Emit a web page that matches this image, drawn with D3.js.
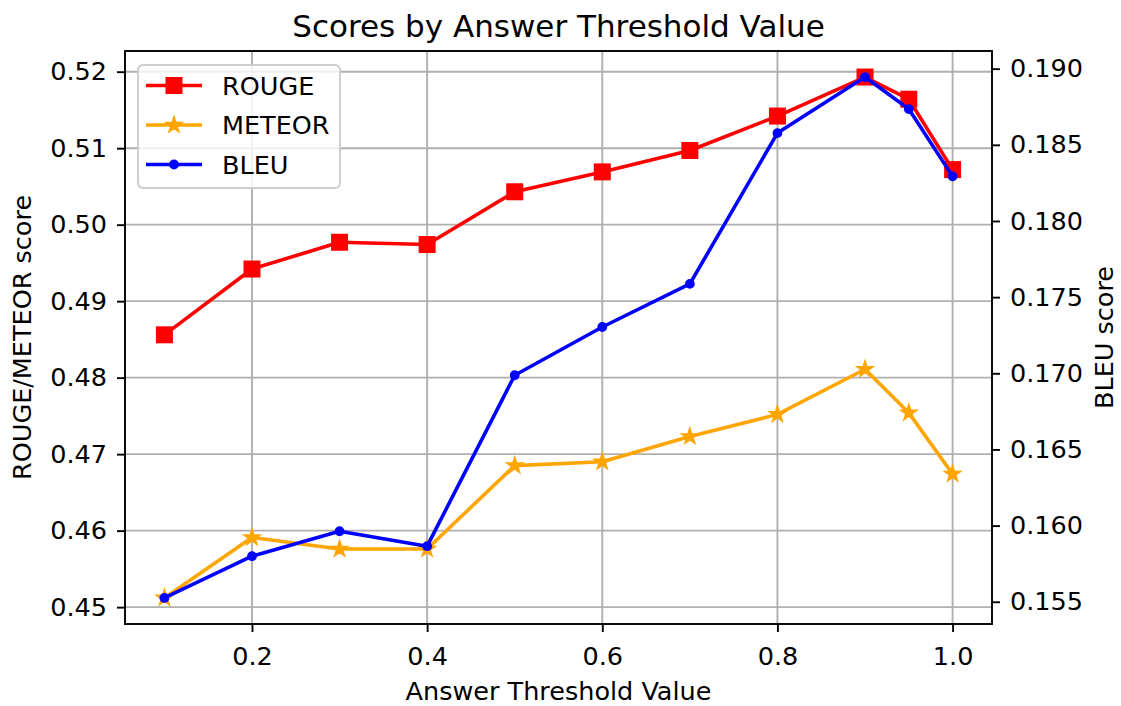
<!DOCTYPE html>
<html>
<head>
<meta charset="utf-8">
<script src="https://cdn.jsdelivr.net/npm/d3@7"></script>
<style>
  body { margin: 0; background: #fff; }
  svg { display: block; font-family: "DejaVu Sans", sans-serif; }
</style>
</head>
<body>
<div id="chart"></div>
<script>
// data
var thresholds = [0.1, 0.2, 0.3, 0.4, 0.5, 0.6, 0.7, 0.8, 0.9, 0.95, 1.0];
var rouge = [0.4856, 0.4942, 0.4977, 0.4974, 0.5043, 0.5069, 0.5097, 0.5142, 0.5193, 0.5164, 0.5072];
var meteor = [0.4512, 0.4591, 0.4576, 0.4576, 0.4685, 0.4690, 0.4723, 0.4752, 0.4811, 0.4754, 0.4674];
var bleu = [0.15525, 0.15799, 0.15963, 0.15865, 0.16987, 0.17304, 0.17587, 0.18577, 0.18945, 0.18735, 0.18293];

var xTicks = [0.2, 0.4, 0.6, 0.8, 1.0];
var leftTicks = [0.45, 0.46, 0.47, 0.48, 0.49, 0.50, 0.51, 0.52];
var rightTicks = [0.155, 0.160, 0.165, 0.170, 0.175, 0.180, 0.185, 0.190];

var width = 1121,
    height = 706;
var margin = { top: 51, right: 129, bottom: 82, left: 125 };
var plotW = width - margin.left - margin.right,
    plotH = height - margin.top - margin.bottom;

var fontSize = "25.5px";

// matplotlib style autoscale with 5% margins
function padded(vals) {
    var ext = d3.extent(vals);
    var p = (ext[1] - ext[0]) * 0.05;
    return [ext[0] - p, ext[1] + p];
}

var x = d3.scaleLinear().domain(padded(thresholds)).range([0, plotW]);
var yLeft = d3.scaleLinear().domain(padded(rouge.concat(meteor))).range([plotH, 0]);
var yRight = d3.scaleLinear().domain(padded(bleu)).range([plotH, 0]);

var svg = d3.select("#chart")
    .append("svg")
    .attr("width", width)
    .attr("height", height);

var g = svg.append("g")
    .attr("transform", "translate(" + margin.left + "," + margin.top + ")");

// grid
g.append("g").selectAll("line")
    .data(xTicks)
    .enter().append("line")
    .attr("x1", d => x(d)).attr("x2", d => x(d))
    .attr("y1", 0).attr("y2", plotH)
    .attr("stroke", "#b0b0b0").attr("stroke-width", 1.9);

g.append("g").selectAll("line")
    .data(leftTicks)
    .enter().append("line")
    .attr("x1", 0).attr("x2", plotW)
    .attr("y1", d => yLeft(d)).attr("y2", d => yLeft(d))
    .attr("stroke", "#b0b0b0").attr("stroke-width", 1.9);

// marker shapes
function starPath(R) {
    var pts = [];
    for (var i = 0; i < 10; i++) {
        var r = i % 2 == 0 ? R : R * 0.381966;
        var a = Math.PI / 5 * i;
        pts.push([r * Math.sin(a), -r * Math.cos(a)]);
    }
    return "M" + pts.map(p => p[0].toFixed(2) + "," + p[1].toFixed(2)).join("L") + "Z";
}

function drawMarker(sel, type, color) {
    if (type == "square") {
        sel.append("rect")
            .attr("x", -7.3).attr("y", -7.3)
            .attr("width", 14.6).attr("height", 14.6)
            .attr("fill", color).attr("stroke", color).attr("stroke-width", 2.4);
    } else if (type == "star") {
        sel.append("path")
            .attr("d", starPath(7.3))
            .attr("fill", color).attr("stroke", color).attr("stroke-width", 2.2)
            .attr("stroke-linejoin", "miter");
    } else {
        sel.append("circle")
            .attr("r", 3.7)
            .attr("fill", color).attr("stroke", color).attr("stroke-width", 2.4);
    }
}

var series = [
    { name: "ROUGE", values: rouge, color: "#ff0000", marker: "square", y: yLeft },
    { name: "METEOR", values: meteor, color: "#ffa500", marker: "star", y: yLeft },
    { name: "BLEU", values: bleu, color: "#0000ff", marker: "dot", y: yRight }
];

series.forEach(function (s) {
    var line = d3.line()
        .x((d, i) => x(thresholds[i]))
        .y(d => s.y(d));

    g.append("path")
        .datum(s.values)
        .attr("fill", "none")
        .attr("stroke", s.color)
        .attr("stroke-width", 3.6)
        .attr("stroke-linejoin", "round")
        .attr("stroke-linecap", "square")
        .attr("d", line);

    g.append("g").selectAll("g")
        .data(s.values)
        .enter().append("g")
        .attr("transform", (d, i) => "translate(" + x(thresholds[i]) + "," + s.y(d) + ")")
        .each(function () { drawMarker(d3.select(this), s.marker, s.color); });
});

// axes
var xAxis = g.append("g")
    .attr("transform", "translate(0," + plotH + ")")
    .call(d3.axisBottom(x).tickValues(xTicks).tickFormat(d3.format(".1f")).tickSize(8).tickPadding(15).tickSizeOuter(0));

var lAxis = g.append("g")
    .call(d3.axisLeft(yLeft).tickValues(leftTicks).tickFormat(d3.format(".2f")).tickSize(8).tickPadding(10).tickSizeOuter(0));

var rAxis = g.append("g")
    .attr("transform", "translate(" + plotW + ",0)")
    .call(d3.axisRight(yRight).tickValues(rightTicks).tickFormat(d3.format(".3f")).tickSize(8).tickPadding(10).tickSizeOuter(0));

[xAxis, lAxis, rAxis].forEach(function (a) {
    a.select(".domain").remove();
    a.selectAll(".tick line").attr("stroke", "#000").attr("stroke-width", 1.9);
    a.selectAll(".tick text")
        .attr("font-family", "DejaVu Sans")
        .attr("font-size", fontSize)
        .attr("fill", "#000");
});

// frame
g.append("rect")
    .attr("width", plotW).attr("height", plotH)
    .attr("fill", "none").attr("stroke", "#000").attr("stroke-width", 1.9);

// legend
var legend = g.append("g")
    .attr("transform", "translate(13,14)");

legend.append("rect")
    .attr("width", 202).attr("height", 123)
    .attr("rx", 5)
    .attr("fill", "#fff").attr("fill-opacity", 0.8)
    .attr("stroke", "#cccccc").attr("stroke-width", 1.9);

var items = legend.selectAll(".item")
    .data(series)
    .enter().append("g")
    .attr("class", "item")
    .attr("transform", (d, i) => "translate(0," + (20.5 + i * 39.5) + ")");

items.append("line")
    .attr("x1", 8).attr("x2", 64)
    .attr("stroke", d => d.color).attr("stroke-width", 3.6);

items.append("g")
    .attr("transform", "translate(36,0)")
    .each(function (d) { drawMarker(d3.select(this), d.marker, d.color); });

items.append("text")
    .attr("x", 84)
    .attr("dy", "0.36em")
    .attr("font-size", fontSize)
    .attr("fill", "#000")
    .text(d => d.name);

// titles
svg.append("text")
    .attr("x", margin.left + plotW / 2)
    .attr("y", 37)
    .attr("text-anchor", "middle")
    .attr("font-size", "31px")
    .text("Scores by Answer Threshold Value");

svg.append("text")
    .attr("x", margin.left + plotW / 2)
    .attr("y", 700)
    .attr("text-anchor", "middle")
    .attr("font-size", fontSize)
    .text("Answer Threshold Value");

svg.append("text")
    .attr("transform", "translate(31," + (margin.top + plotH / 2) + ") rotate(-90)")
    .attr("text-anchor", "middle")
    .attr("font-size", fontSize)
    .text("ROUGE/METEOR score");

svg.append("text")
    .attr("transform", "translate(1113," + (margin.top + plotH / 2) + ") rotate(-90)")
    .attr("text-anchor", "middle")
    .attr("font-size", fontSize)
    .text("BLEU score");
</script>
</body>
</html>
